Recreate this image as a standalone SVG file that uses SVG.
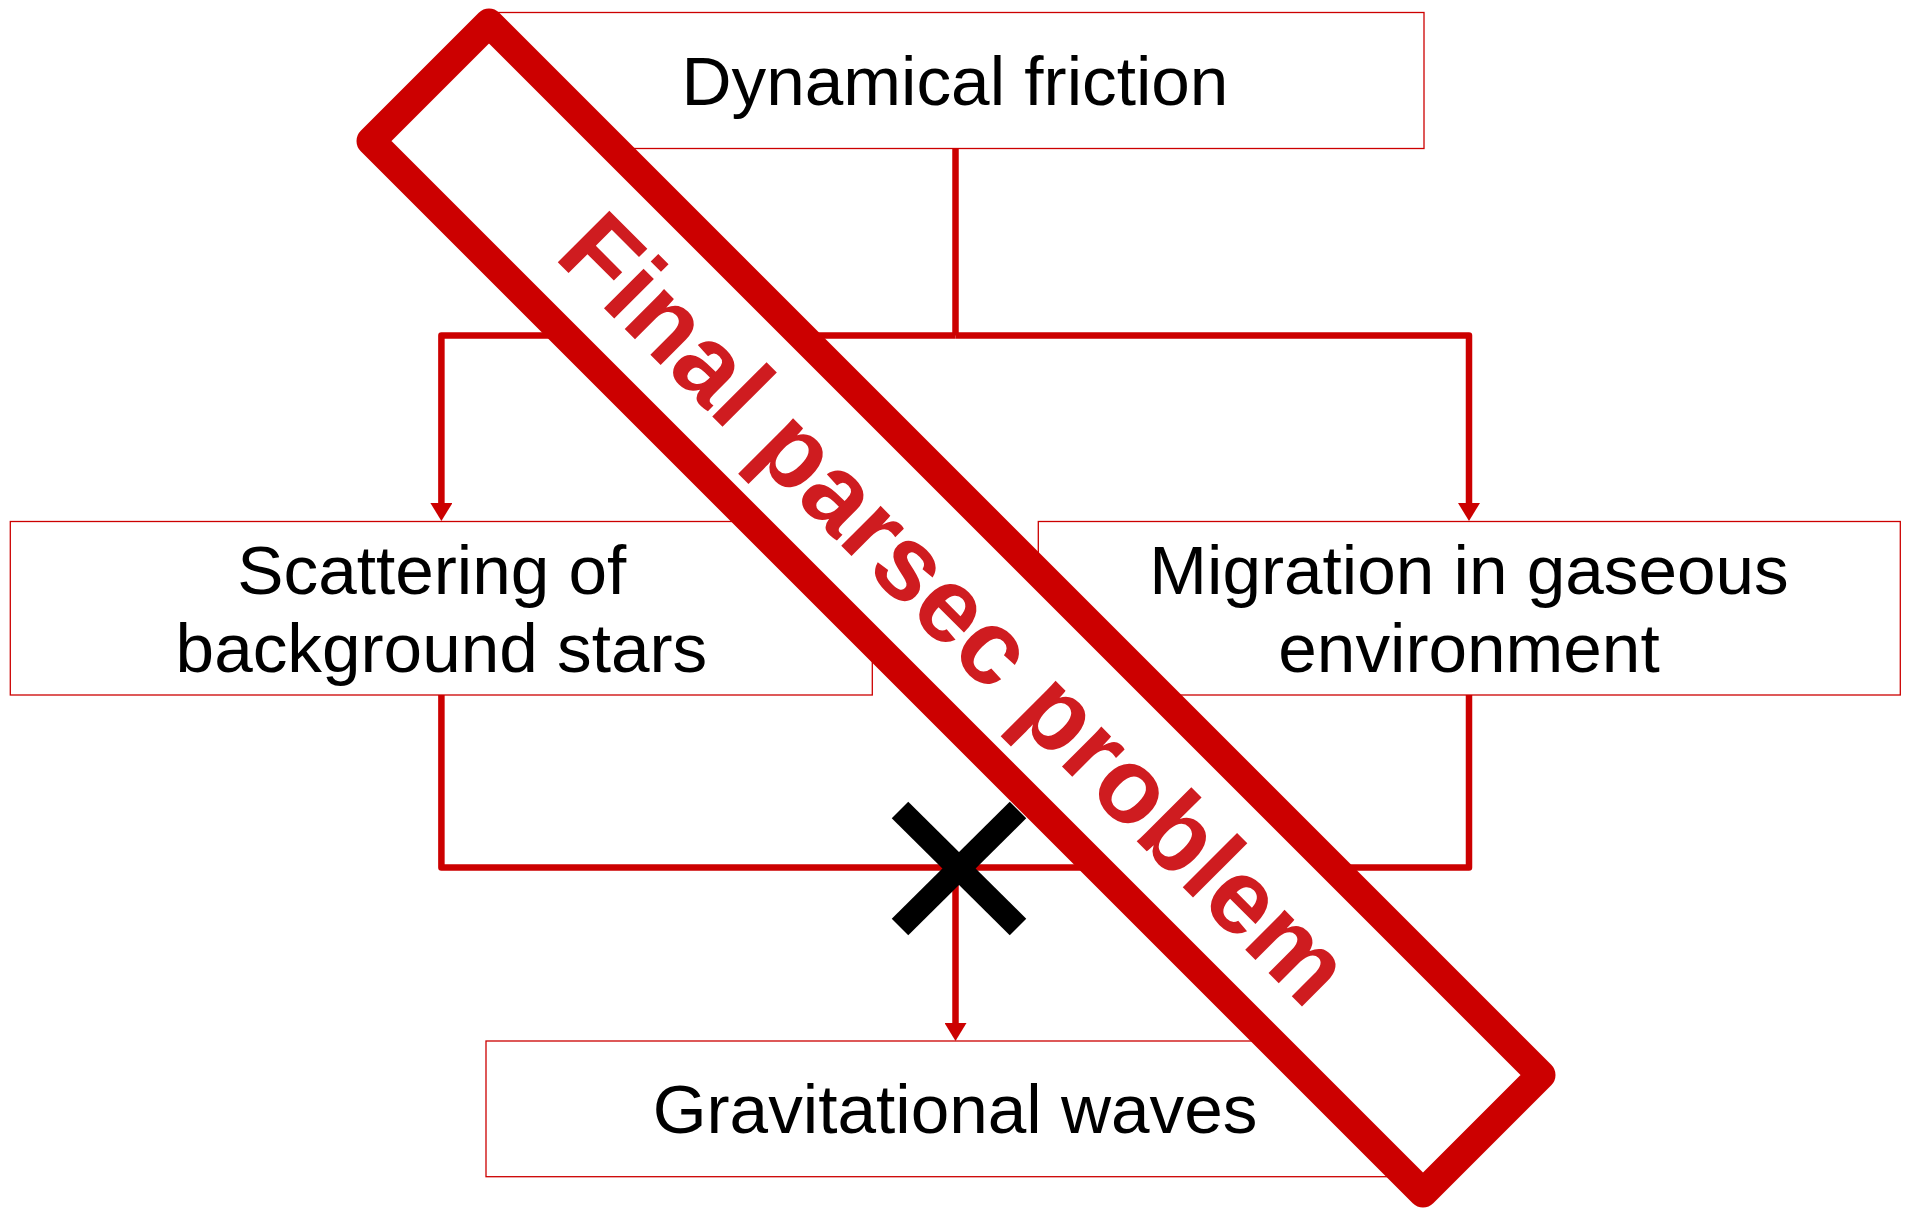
<svg xmlns="http://www.w3.org/2000/svg" width="1908" height="1208" viewBox="0 0 1908 1208">
  <style>
    .box { fill: #ffffff; stroke: #cc0000; stroke-width: 1.3; }
    .label { font-family: "Liberation Sans", Arial, sans-serif; font-size: 69.3px; fill: #000000; text-anchor: middle; }
    .conn { fill: none; stroke: #cc0000; stroke-width: 6.5; stroke-linejoin: round; }
    .cross { stroke: #000000; stroke-width: 23.5; stroke-linecap: butt; }
    .banner { fill: #ffffff; stroke: #cc0000; stroke-width: 29; stroke-linejoin: round; }
    .banner-text { font-family: "Liberation Sans", Arial, sans-serif; font-weight: bold; font-size: 106px; fill: #cf1c20; text-anchor: middle; }
  </style>
  <defs>
    <marker id="arrow" markerUnits="userSpaceOnUse" markerWidth="18" markerHeight="22" viewBox="0 0 18 22" refX="0.5" refY="11" orient="auto">
      <path d="M0,0 L18,11 L0,22 Z" fill="#cc0000"/>
    </marker>
  </defs>
  <rect width="1908" height="1208" fill="#ffffff"/>

  <g id="node-dynamical-friction">
    <rect class="box" x="486" y="12.5" width="938" height="136"/>
    <text class="label" x="955" y="105">Dynamical friction</text>
  </g>
  <g id="node-scattering">
    <rect class="box" x="10.3" y="521.5" width="862" height="173.5"/>
    <text class="label" x="431.8" y="594">Scattering of</text>
    <text class="label" x="441.4" y="671.7">background stars</text>
  </g>
  <g id="node-migration">
    <rect class="box" x="1038.3" y="521.5" width="862" height="173.5"/>
    <text class="label" x="1469" y="594">Migration in gaseous</text>
    <text class="label" x="1469" y="671.7">environment</text>
  </g>
  <g id="node-gravitational-waves">
    <rect class="box" x="486" y="1041" width="938" height="135.7"/>
    <text class="label" x="955" y="1133">Gravitational waves</text>
  </g>

  <g id="connectors">
    <path class="conn" d="M955.5,148.5 V335.5"/>
    <path class="conn" d="M955.5,335.5 H441.4 V503.5" marker-end="url(#arrow)"/>
    <path class="conn" d="M955.5,335.5 H1469 V503.5" marker-end="url(#arrow)"/>
    <path class="conn" d="M441.4,695 V867.5 H955.5"/>
    <path class="conn" d="M1469,695 V867.5 H955.5"/>
    <path class="conn" d="M955.5,867.5 V1023.5" marker-end="url(#arrow)"/>
  </g>

  <g id="blocked-mark">
    <line class="cross" x1="900" y1="810" x2="1018" y2="927"/>
    <line class="cross" x1="900" y1="927" x2="1018" y2="810"/>
  </g>

  <g id="final-parsec-banner">
    <polygon class="banner" points="489,23 1541,1075 1423,1193 371,141"/>
    <text class="banner-text" x="929.8" y="634.2" transform="rotate(45 929.8 634.2)">Final parsec problem</text>
  </g>
</svg>
